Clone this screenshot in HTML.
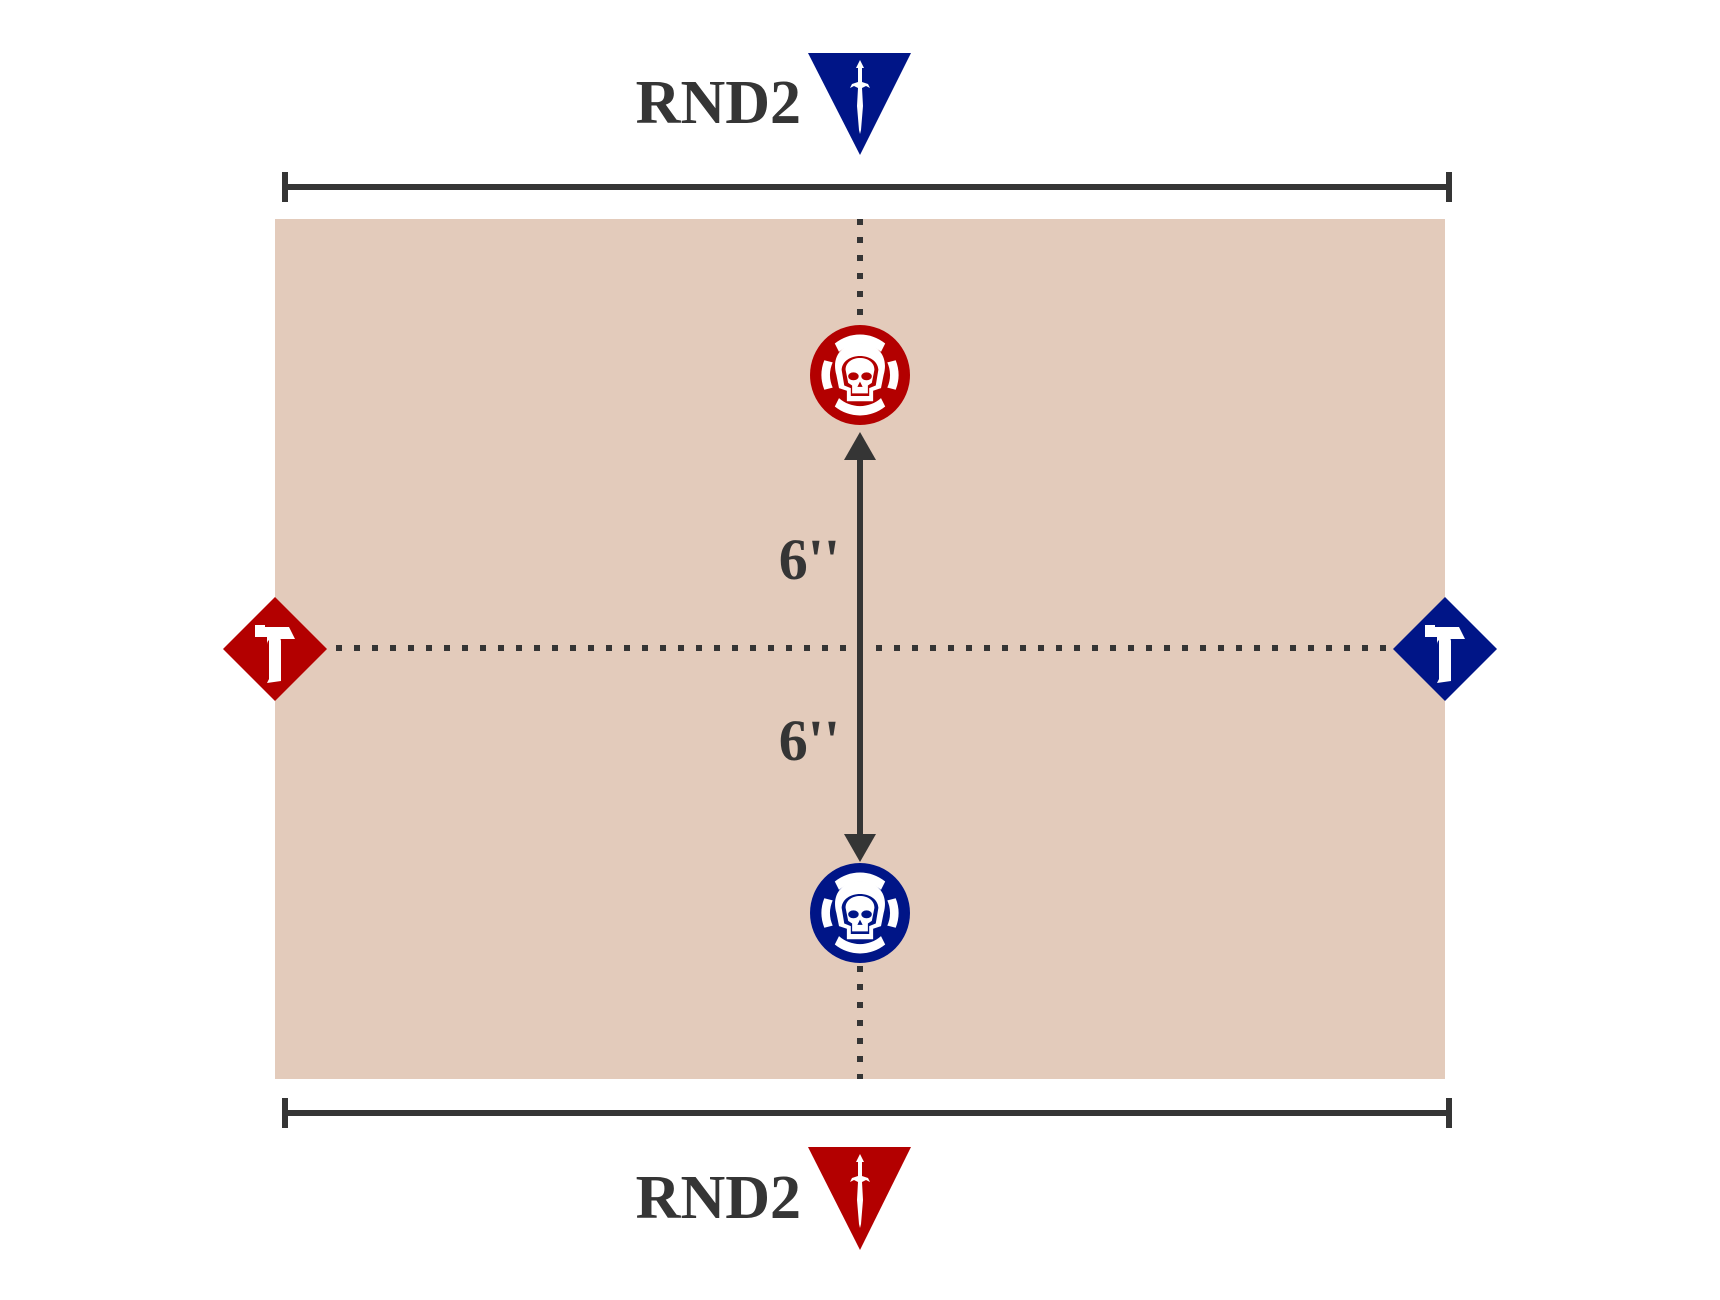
<!DOCTYPE html>
<html><head><meta charset="utf-8"><style>html,body{margin:0;padding:0;background:#fff}svg{display:block}</style></head>
<body>
<svg width="1720" height="1300" viewBox="0 0 1720 1300" xmlns="http://www.w3.org/2000/svg">
<defs>
<g id="skull">
  <path d="M-24,-30 A38,38 0 0 1 24,-30 L20,-22 A30,30 0 0 0 -20,-22 Z" fill="#fff"/>
  <path d="M-24,30 A38,38 0 0 0 24,30 L20,22 A30,30 0 0 1 -20,22 Z" fill="#fff"/>
  <path d="M-34,-14 A38,38 0 0 0 -34,14 L-26,12 A30,30 0 0 1 -26,-12 Z" fill="#fff"/>
  <path d="M34,-14 A38,38 0 0 1 34,14 L26,12 A30,30 0 0 0 26,-12 Z" fill="#fff"/>
  <g transform="scale(1.25)">
  <path d="M-18,0 C-22,-14 -14,-24 0,-24 C14,-24 22,-14 18,0 L16,10 L10,12 L10,20 L-10,20 L-10,12 L-16,10 Z" fill="#fff"/>
  <path d="M-14,-4 C-13,-18 13,-18 14,-4 L12,8 L7,10 L7,16 L-7,16 L-7,10 L-12,8 Z" fill="currentColor"/>
  <path d="M-11,-4 C-11,-16 11,-16 11,-4 L9,6 L6,8 L6,14 L-6,14 L-6,8 L-9,6 Z" fill="#fff"/>
  <ellipse cx="-5" cy="1" rx="4" ry="3" fill="currentColor"/>
  <ellipse cx="5" cy="1" rx="4" ry="3" fill="currentColor"/>
  <path d="M0,5 L-2,9 L2,9 Z" fill="currentColor"/>
  </g>
</g>
<g id="axe">
  <path d="M-20,-24 L-10,-24 L-10,-22 L14,-22 L20,-10 L-2,-10 C-6,-10 -8,-8 -8,-4 L-8,-12 L-20,-12 Z" fill="#fff"/>
  <path d="M-6,-8 C-6,-14 6,-14 6,-8 L6,32 L-8,34 L-6,30 Z" fill="#fff"/>
</g>
<g id="sword">
  <path d="M0,-40 L4,-32 L2,-32 L2,-18 L8,-16 L10,-12 L6,-14 L2,-12 L3,6 L1,30 L0,34 L-1,30 L-3,6 L-2,-12 L-6,-14 L-10,-12 L-8,-16 L-2,-18 L-2,-32 L-4,-32 Z" fill="#fff"/>
</g>
</defs>
<rect x="275" y="219" width="1170" height="860" fill="#e3cbbb"/>
<g stroke="#353535" stroke-width="6" fill="none">
  <line x1="285" y1="187" x2="1449" y2="187"/>
  <line x1="285" y1="172" x2="285" y2="202"/>
  <line x1="1449" y1="172" x2="1449" y2="202"/>
  <line x1="285" y1="1113" x2="1449" y2="1113"/>
  <line x1="285" y1="1098" x2="285" y2="1128"/>
  <line x1="1449" y1="1098" x2="1449" y2="1128"/>
  <line x1="860" y1="219" x2="860" y2="326" stroke-dasharray="6 12"/>
  <line x1="860" y1="966" x2="860" y2="1079" stroke-dasharray="6 12"/>
  <line x1="336" y1="648" x2="1390" y2="648" stroke-dasharray="6 12"/>
  <line x1="860" y1="455" x2="860" y2="840"/>
</g>
<rect x="854" y="630" width="12" height="36" fill="#e3cbbb"/>
<line x1="860" y1="620" x2="860" y2="680" stroke="#353535" stroke-width="6"/>
<path d="M860,432 L876,460 L844,460 Z" fill="#353535"/>
<path d="M860,862 L876,834 L844,834 Z" fill="#353535"/>
<g font-family="Liberation Serif, serif" font-weight="bold" fill="#353535">
  <text x="840" y="579" font-size="58" text-anchor="end">6''</text>
  <text x="840" y="760" font-size="58" text-anchor="end">6''</text>
  <text x="801" y="123" font-size="62" text-anchor="end">RND2</text>
  <text x="801" y="1218" font-size="62" text-anchor="end">RND2</text>
</g>
<path d="M808,53 L911,53 L860,155 Z" fill="#001587"/>
<use href="#sword" transform="translate(860,100)"/>
<path d="M808,1147 L911,1147 L860,1250 Z" fill="#b30000"/>
<use href="#sword" transform="translate(860,1194)"/>
<circle cx="860" cy="375" r="50" fill="#b30000"/>
<use href="#skull" transform="translate(860,375) scale(1.05)" color="#b30000"/>
<circle cx="860" cy="913" r="50" fill="#001587"/>
<use href="#skull" transform="translate(860,913) scale(1.05)" color="#001587"/>
<path d="M275,597 L327,649 L275,701 L223,649 Z" fill="#b30000"/>
<use href="#axe" transform="translate(275,649)"/>
<path d="M1445,597 L1497,649 L1445,701 L1393,649 Z" fill="#001587"/>
<use href="#axe" transform="translate(1445,649)"/>
</svg>
</body></html>
